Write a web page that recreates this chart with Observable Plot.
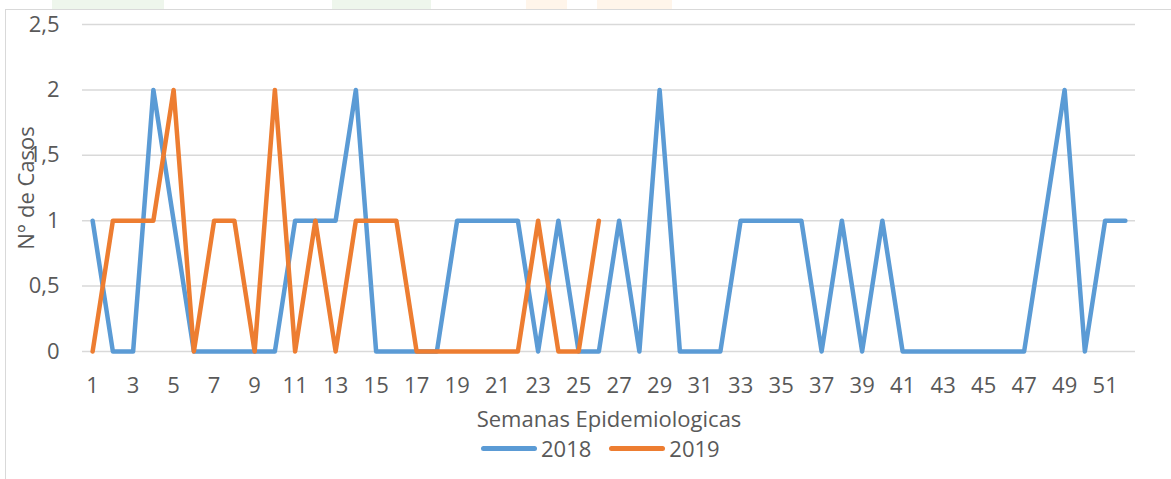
<!DOCTYPE html>
<html>
<head>
<meta charset="utf-8">
<script src="https://cdn.jsdelivr.net/npm/d3@7"></script>
<script src="https://cdn.jsdelivr.net/npm/@observablehq/plot@0.6"></script>
<style>
  html, body { margin: 0; padding: 0; background: #fff; }
  #wrap { position: relative; width: 1171px; height: 479px; overflow: hidden; font-family: "Open Sans", sans-serif; }
  .deco { position: absolute; top: 0; height: 9px; }
  #frame { position: absolute; left: 5px; top: 9px; width: 1200px; height: 500px; border: 1.5px solid #D9D9D9; box-sizing: border-box; }
  #chart { position: absolute; left: 0; top: 0; }
  #legend { position: absolute; left: 481px; top: 437px; height: 22px; display: flex; align-items: center; font-size: 22px; color: #595959; }
  .sw { width: 56px; height: 5px; border-radius: 3px; margin-right: 4px; }
  .item { display: flex; align-items: center; }
</style>
</head>
<body>
<div id="wrap">
  <div class="deco" style="left:52px;width:112px;background:#EEF6EC"></div>
  <div class="deco" style="left:332px;width:99px;background:#EEF6EC"></div>
  <div class="deco" style="left:526px;width:41px;background:#FFF5EA"></div>
  <div class="deco" style="left:597px;width:75px;background:#FFF5EA"></div>
  <div id="frame"></div>
  <div id="chart"></div>
  <div id="legend"></div>
</div>
<script>
const weeks = d3.range(1, 53);
const cases2018 = [1,0,0,2,1,0,0,0,0,0,1,1,1,2,0,0,0,0,1,1,1,1,0,1,0,0,1,0,2,0,0,0,1,1,1,1,0,1,0,1,0,0,0,0,0,0,0,1,2,0,1,1];
const cases2019 = [0,1,1,1,2,0,1,1,0,2,0,1,0,1,1,1,0,0,0,0,0,0,1,0,0,1];
const seriesNames = ["2018", "2019"];
const seriesColors = ["#5B9BD5", "#ED7D31"];
const yTicks = [0, 0.5, 1, 1.5, 2, 2.5];
const xTicks = d3.range(1, 53, 2);

const data = [
  ...cases2018.map((v, i) => ({week: weeks[i], cases: v, year: "2018"})),
  ...cases2019.map((v, i) => ({week: weeks[i], cases: v, year: "2019"}))
];

const textColor = "#595959";
const chart = Plot.plot({
  width: 1171,
  height: 437,
  marginLeft: 82,
  marginRight: 36,
  marginTop: 24,
  marginBottom: 86,
  style: {fontFamily: "Open Sans", fontSize: "22px", color: textColor, background: "transparent"},
  x: {domain: [0.5, 52.5]},
  y: {domain: [0, 2.5]},
  color: {domain: seriesNames, range: seriesColors},
  marks: [
    Plot.gridY(yTicks, {stroke: "#D9D9D9", strokeOpacity: 1, strokeWidth: 1.5}),
    Plot.axisY(yTicks, {tickSize: 0, tickPadding: 23, label: null, tickFormat: d => String(d).replace(".", ","), fill: textColor, fontSize: 22}),
    Plot.axisX(xTicks, {tickSize: 0, tickPadding: 26, label: null, tickFormat: d => String(d), fill: textColor, fontSize: 22}),
    Plot.line(data, {x: "week", y: "cases", z: "year", stroke: "year", strokeWidth: 4.5, strokeLinejoin: "round", strokeLinecap: "round"}),
    Plot.text(["N° de Casos"], {frameAnchor: "left", textAnchor: "middle", lineAnchor: "middle", rotate: -90, dx: -56, fill: textColor, fontSize: 22}),
    Plot.text(["Semanas Epidemiologicas"], {frameAnchor: "bottom", dy: 75, fill: textColor, fontSize: 22})
  ]
});
document.getElementById("chart").appendChild(chart);

const legend = document.getElementById("legend");
seriesNames.forEach((name, i) => {
  const item = document.createElement("div");
  item.className = "item";
  if (i > 0) item.style.marginLeft = "18px";
  const sw = document.createElement("div");
  sw.className = "sw";
  sw.style.background = seriesColors[i];
  const t = document.createElement("span");
  t.textContent = name;
  item.appendChild(sw);
  item.appendChild(t);
  legend.appendChild(item);
});
</script>
</body>
</html>
